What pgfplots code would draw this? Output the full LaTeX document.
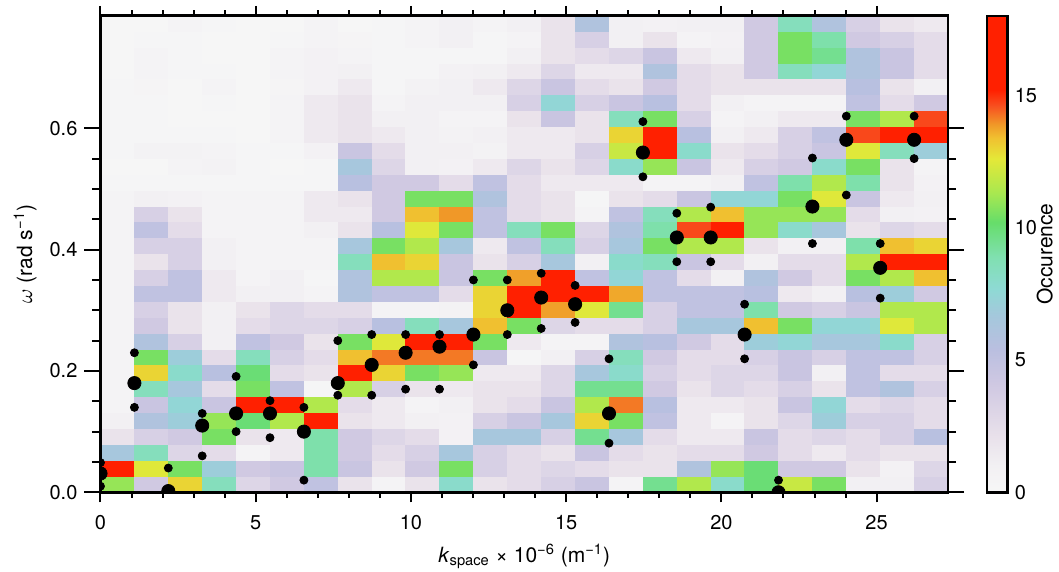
\documentclass[border=0pt]{standalone}
\usepackage{fontspec}
\setmainfont{TeX Gyre Heros}
\usepackage{pgfplots}
\usepackage{pgfplotstable}
\pgfplotsset{compat=1.18}

\pgfdeclareplotmark{cell}{%
  \pgfpathrectangle{\pgfpoint{-8.55pt}{-4.05pt}}{\pgfpoint{17.1pt}{8.1pt}}%
  \pgfusepathqfill}

\pgfplotstableread{
y c0 c1 c2 c3 c4 c5 c6 c7 c8 c9 c10 c11 c12 c13 c14 c15 c16 c17 c18 c19 c20 c21 c22 c23 c24
0.01309 11 4 13 8.5 3 4 5 2 0.5 2 8 2 2.5 3.5 4.5 0.5 9.5 11.5 8 10 12 10.5 1 1 3.5
0.03927 17 12.5 10.5 7 4 4.5 9 4.5 2 4 10.5 3.5 2.5 3 2.5 2 2 6 11 10 4 4 2 0.8 3
0.06545 6.5 8.5 3 2.5 0.5 1.5 9 4 2.5 3.5 6.5 3.5 2.5 2 4.5 2.5 2 2.5 2.5 4 2.5 1.5 2.5 2 2
0.09163 2 3.5 4 10.5 2 1.5 9 4 3 2.5 0.8 6.5 6.5 3.5 9.5 6.5 2.5 1.5 1.5 4.5 2.5 3 2.5 3.5 5.5
0.11781 1 6 7 11 10 11.5 17 2 1.5 1 0.8 3.5 4.5 6.5 13 10.5 5 1.5 0.5 2 3 7 3.5 3.5 2.5
0.14399 0.5 4.5 7.5 4.5 17 17 11.5 2.5 1.5 0.5 1 2 2.5 4.5 11.5 14.2 5.5 1.5 1.5 2 4.5 7.5 2.5 3 2.5
0.17017 0.5 8.5 6.5 2.5 10.5 5 0.3 11.5 3.5 2 1.5 2 2 3 9.5 9.5 4 2 3 2.5 3.5 2 5 6 3.5
0.19635 0.5 13 8 5.5 10 2.5 2 17 13 10.5 11 1.5 1.5 3 6.5 8 3.5 2.5 3 3 4.5 1 5 2.5 2.5
0.22253 0.5 10.5 7 2.5 8.5 3.5 2.5 13.4 14.2 14.2 14.2 4.5 0.3 1 3.5 8.5 4 2.5 2.5 3.5 4.5 3.5 5 5 3.5
0.24871 0.5 6 3.5 1 5 4 2 10.5 12.5 17 17 10.5 1.5 0.5 0.5 6 5.5 4 2.5 7 7.5 6.5 6.5 8 3.5
0.27489 0.5 4 2 1 2.5 3 3 3.5 5.5 8.5 6.5 13.4 10.5 3 2.5 2.5 3.5 6.5 6.5 13.4 10.5 7.5 7.5 12.5 11.5
0.30107 0.5 3.5 2 1 2 3 2.5 2.5 0.5 0.5 0.7 13 17 13.8 12.5 9.5 3.5 5 5 9 4 3.5 4.5 11.5 11.5
0.32725 0.5 5 5 1.5 1 1 0.5 6 5 5 2.5 13 17 17 17 13.7 5 5 5 5.5 1.5 1 5.5 7 4
0.35343 0.5 3.5 5 1.5 0.5 1 0.3 6 11.5 11.5 4.5 10.5 13.8 17 5 7.5 5 2.5 1 6 4 2.5 10.5 11.5 13.4
0.37961 0.5 2 3.5 1 0.5 0.5 0.5 8.5 13.4 13 4.5 2 3.5 6.5 1 8 8.5 4.5 2.5 1 2.5 2.5 11.5 17 17
0.40579 0.5 3.5 3.5 1 0.5 0.5 0.5 6.5 10.5 11.5 6.5 1.5 5 8.5 3.5 6.5 10.5 11.5 11.5 2 1 1 9 13.4 13
0.43197 0.5 5 2.5 0.5 0.5 0.5 1 2 5.5 12.5 10.5 5 8.5 10.5 3 6 9 14.7 17 11 8 6.5 2 3 2.5
0.45815 0.5 3.5 2 0.5 0.5 0.5 1.5 1.5 4 13.4 13.9 5 2.5 2 0.5 5 8.5 11.5 13.4 11 11 11 2.5 1 0.8
0.48433 0.5 1 0.8 0.5 0.5 0.5 1.5 2 4 10.5 10.5 6 2.5 2 0.3 2 2.5 4.5 7.5 7.5 10.5 12.5 4.5 1.5 1
0.51051 0.3 0.3 0.3 0.3 0.3 0.3 0.3 5.5 4 4 2.5 5 2.5 1.5 1.5 1.5 0.5 0.5 1 5 9 11.5 9 2 0.8
0.53669 0.2 0.2 0.5 0.7 0.3 0.2 0.3 6.5 3 1 0.8 1.5 3 2 3 8 11 4.5 1.5 3.5 4 8 10.5 2 0.5
0.56287 0.3 0.7 0.7 0.5 0.3 0.3 0.8 4.5 2.5 1 1 0.7 1.5 1.5 3.5 12 17 8 2 2.5 3.5 4.5 12.5 8.5 7
0.58905 0.3 0.3 0.3 0.3 0.2 0.6 1.5 2 1.5 1 0.7 1 1.5 1.5 2 13 17 5.5 1 1.5 3.5 5 14.7 17 17
0.61523 0.3 0.3 0.2 0.2 0.2 0.5 1.5 2 1 1 0.5 0.5 2 4.5 2 8.5 10.5 3.5 0.5 1 1.5 1.5 10.5 11.5 14.7
0.64141 0.3 0.3 0.2 0.3 0.2 0.5 1.5 2 0.5 1 1 1 3.5 7.5 3.5 4.5 5.5 2.5 1 0.5 0.5 0.5 5 2.5 4
0.66759 0.3 0.4 0.2 0.5 0.2 0.4 0.8 1.5 0.3 0.7 1 1.5 3 4.5 2.5 2 4 2.5 2 2 2 2 5.5 2 1
0.69377 0.2 0.5 0.3 0.3 0.2 0.5 0.8 1 0.3 0.3 0.8 1 1.5 3 1.5 1.5 6 2.5 2 4 8.5 7.5 6 4.5 2.5
0.71995 0.2 0.5 0.3 0.2 0.2 0.5 0.8 0.5 0.3 0.3 0.3 0.3 1 2 2.5 3 4.5 1.5 1 4 10.5 9.5 6 4.5 2.5
0.74613 0.2 0.3 0.3 0.2 0.2 0.3 0.5 0.4 0.3 0.5 1 0.3 0.5 2 3.5 1 2 0.5 0.8 4 10.5 9 4 3.5 2.5
0.77231 0.2 0.2 0.5 0.3 0.2 0.2 0.5 0.2 0.3 0.5 1 0.5 1 2 6 1 0.8 1 1 4 8.5 6 3.5 2 1.5
}\cells

\pgfplotsset{cellplot/.style={scatter, only marks, mark=cell, point meta=explicit, forget plot}}

\begin{document}
\begin{tikzpicture}
\begin{axis}[
  name=main,
  scale only axis, width=423.75pt, height=238.25pt,
  xmin=0, xmax=27.3, ymin=0, ymax=0.7854,
  axis on top,
  clip marker paths=true,
  xtick={0,5,10,15,20,25}, minor x tick num=4,
  ytick={0,0.2,0.4,0.6}, minor y tick num=3,
  tick align=outside, xtick pos=both, ytick pos=both,
  xticklabel pos=lower, yticklabel pos=left,
  major tick length=8pt, minor tick length=4pt,
  every major x tick/.append style={/pgfplots/major tick length=5pt},
  every minor x tick/.append style={/pgfplots/minor tick length=2.75pt},
  every tick/.style={black, line width=1pt},
  axis line style={black, line width=1.3pt},
  /pgf/number format/assume math mode=true,
  tick label style={font=\fontsize{10}{12}\selectfont},
  yticklabel style={/pgf/number format/fixed, /pgf/number format/fixed zerofill, /pgf/number format/precision=1},
  label style={font=\fontsize{10.5}{12.5}\selectfont},
  xlabel={\textit{k}\textsubscript{space} × 10\textsuperscript{−6} (m\textsuperscript{−1})},
  ylabel={$\omega$ (rad s\textsuperscript{−1})},
  xlabel style={at={(axis description cs:0.5,-0.134)}, anchor=center},
  ylabel style={at={(axis description cs:-0.089,0.5)}, anchor=center},
  colormap={occ}{rgb255(0pt)=(247,247,247); rgb255(10pt)=(242,240,243); rgb255(22pt)=(232,224,234); rgb255(41pt)=(207,200,226); rgb255(54pt)=(186,191,224); rgb255(67pt)=(164,200,220); rgb255(77pt)=(142,218,212); rgb255(89pt)=(128,224,176); rgb255(102pt)=(102,221,106); rgb255(113pt)=(168,232,80); rgb255(126pt)=(228,232,56); rgb255(134pt)=(240,192,48); rgb255(139pt)=(240,152,40); rgb255(146pt)=(248,80,32); rgb255(152pt)=(255,32,0); rgb255(180pt)=(255,32,0)},
  point meta min=0, point meta max=18,
  colorbar,
  colorbar style={
    at={(parent axis.north east)}, anchor=north west, xshift=11pt,
    scale only axis, width=10.3pt, height=238.25pt,
    ytick={0,5,10,15}, major tick length=0pt, minor tick num=0,
    axis line style={black, line width=1.2pt},
    /pgf/number format/assume math mode=true,
    yticklabel style={font=\fontsize{10}{12}\selectfont},
    ylabel={Occurence},
    ylabel style={font=\fontsize{10.5}{12.5}\selectfont, at={(axis description cs:2.8,0.5)}, anchor=center},
  },
]
\addplot[cellplot] table[x expr=0.546, y=y, meta=c0]{\cells};
\addplot[cellplot] table[x expr=1.638, y=y, meta=c1]{\cells};
\addplot[cellplot] table[x expr=2.730, y=y, meta=c2]{\cells};
\addplot[cellplot] table[x expr=3.822, y=y, meta=c3]{\cells};
\addplot[cellplot] table[x expr=4.914, y=y, meta=c4]{\cells};
\addplot[cellplot] table[x expr=6.006, y=y, meta=c5]{\cells};
\addplot[cellplot] table[x expr=7.098, y=y, meta=c6]{\cells};
\addplot[cellplot] table[x expr=8.190, y=y, meta=c7]{\cells};
\addplot[cellplot] table[x expr=9.282, y=y, meta=c8]{\cells};
\addplot[cellplot] table[x expr=10.374, y=y, meta=c9]{\cells};
\addplot[cellplot] table[x expr=11.466, y=y, meta=c10]{\cells};
\addplot[cellplot] table[x expr=12.558, y=y, meta=c11]{\cells};
\addplot[cellplot] table[x expr=13.650, y=y, meta=c12]{\cells};
\addplot[cellplot] table[x expr=14.742, y=y, meta=c13]{\cells};
\addplot[cellplot] table[x expr=15.834, y=y, meta=c14]{\cells};
\addplot[cellplot] table[x expr=16.926, y=y, meta=c15]{\cells};
\addplot[cellplot] table[x expr=18.018, y=y, meta=c16]{\cells};
\addplot[cellplot] table[x expr=19.110, y=y, meta=c17]{\cells};
\addplot[cellplot] table[x expr=20.202, y=y, meta=c18]{\cells};
\addplot[cellplot] table[x expr=21.294, y=y, meta=c19]{\cells};
\addplot[cellplot] table[x expr=22.386, y=y, meta=c20]{\cells};
\addplot[cellplot] table[x expr=23.478, y=y, meta=c21]{\cells};
\addplot[cellplot] table[x expr=24.570, y=y, meta=c22]{\cells};
\addplot[cellplot] table[x expr=25.662, y=y, meta=c23]{\cells};
\addplot[cellplot] table[x expr=26.754, y=y, meta=c24]{\cells};
% mean (large dots)
\addplot[only marks, mark=*, mark size=3.3pt, black] coordinates {
(0,0.031) (1.092,0.180) (2.184,0.002) (3.276,0.110) (4.368,0.130) (5.460,0.130) (6.552,0.100) (7.644,0.180) (8.736,0.210) (9.828,0.230) (10.920,0.240) (12.012,0.260) (13.104,0.300) (14.196,0.321) (15.288,0.310) (16.380,0.130) (17.472,0.560) (18.564,0.420) (19.656,0.420) (20.748,0.260) (21.840,0.000) (22.932,0.471) (24.024,0.581) (25.116,0.370) (26.208,0.581)
};
% upper (small dots)
\addplot[only marks, mark=*, mark size=2pt, black] coordinates {
(0,0.049) (1.092,0.230) (2.184,0.040) (3.276,0.130) (4.368,0.191) (5.460,0.151) (6.552,0.140) (7.644,0.250) (8.736,0.260) (9.828,0.260) (10.920,0.260) (12.012,0.350) (13.104,0.350) (14.196,0.361) (15.288,0.341) (16.380,0.220) (17.472,0.611) (18.564,0.460) (19.656,0.470) (20.748,0.310) (21.840,0.020) (22.932,0.551) (24.024,0.620) (25.116,0.410) (26.208,0.620)
};
% lower (small dots)
\addplot[only marks, mark=*, mark size=2pt, black] coordinates {
(0,0.010) (1.092,0.140) (2.184,-0.036) (3.276,0.060) (4.368,0.100) (5.460,0.090) (6.552,0.020) (7.644,0.160) (8.736,0.160) (9.828,0.170) (10.920,0.170) (12.012,0.210) (13.104,0.260) (14.196,0.270) (15.288,0.280) (16.380,0.081) (17.472,0.520) (18.564,0.380) (19.656,0.380) (20.748,0.220) (21.840,-0.020) (22.932,0.410) (24.024,0.490) (25.116,0.320) (26.208,0.550)
};
\end{axis}
\pgfresetboundingbox
\path ([shift={(-50.25pt,-39.85pt)}]main.south west) rectangle ([shift={(55.5pt,7.9pt)}]main.north east);
\end{tikzpicture}
\end{document}
